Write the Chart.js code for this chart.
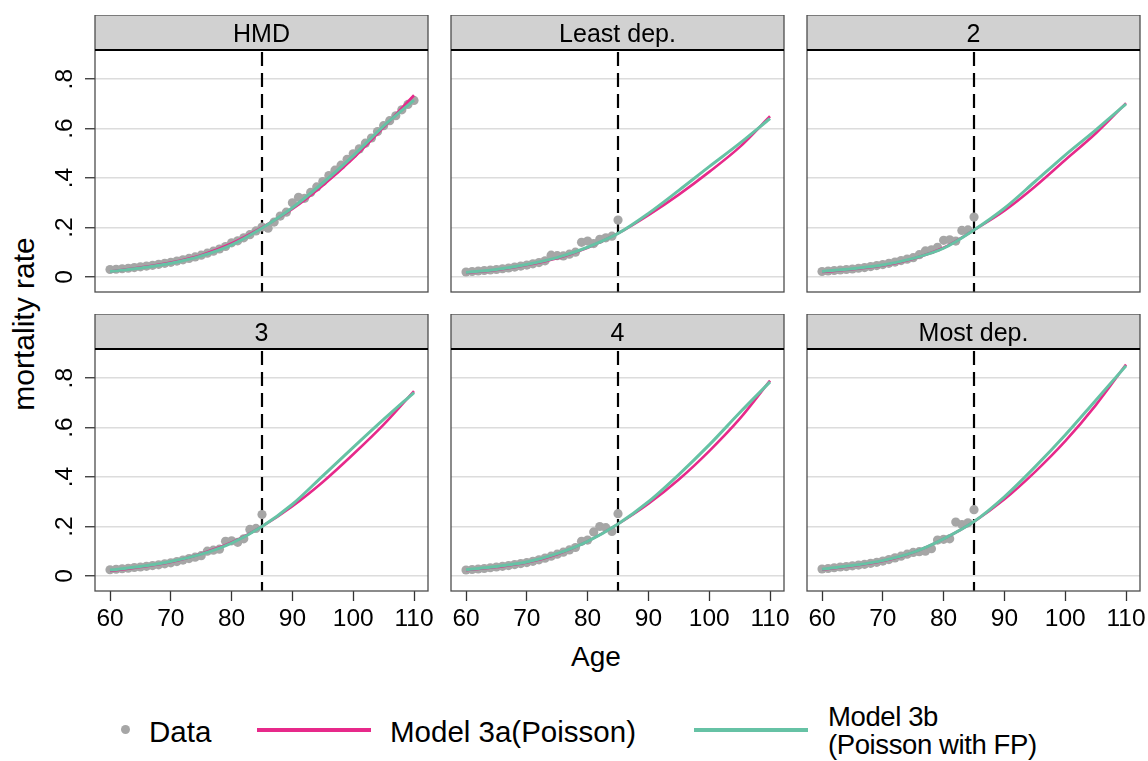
<!DOCTYPE html>
<html>
<head>
<meta charset="utf-8">
<title>mortality rate by age</title>
<script src="https://cdn.jsdelivr.net/npm/chart.js@4.4.1/dist/chart.umd.min.js"></script>
<style>
  body { margin: 0; background: #fff; font-family: "Liberation Sans", Arial, sans-serif; }
  #page { position: relative; width: 1148px; height: 761px; overflow: hidden; background: #fff; }
  #page canvas { position: absolute; }
  .txt { position: absolute; color: #000; white-space: nowrap; line-height: 1; }
  .key { position: absolute; }
</style>
</head>
<body>
<div id="page">
  <div class="txt" id="ytitle" style="left:24px;top:324px;font-size:30px;transform:translate(-50%,-50%) rotate(-90deg);">mortality rate</div>
  <div class="txt" id="xtitle" style="left:596px;top:643px;font-size:28px;line-height:28px;transform:translateX(-50%);">Age</div>

  <!-- legend -->
  <div class="key" style="left:121px;top:725px;width:9px;height:9px;border-radius:50%;background:#a6a6a6;"></div>
  <div class="txt" style="left:149px;top:717px;font-size:29.5px;line-height:29.5px;">Data</div>
  <div class="key" style="left:257px;top:728px;width:114px;height:4px;background:#e7298a;"></div>
  <div class="txt" style="left:390px;top:717px;font-size:29.5px;line-height:29.5px;">Model 3a(Poisson)</div>
  <div class="key" style="left:694px;top:728px;width:114px;height:4px;background:#66c2a5;"></div>
  <div class="txt" style="left:828px;top:703px;font-size:27.5px;line-height:28px;letter-spacing:-0.4px;">Model 3b<br>(Poisson with FP)</div>
</div>

<script>
// ---- data ----
var panelNames = ['HMD', 'Least dep.', '2', '3', '4', 'Most dep.'];

var xTicks = [60, 70, 80, 90, 100, 110];
var yTicks = [0, 0.2, 0.4, 0.6, 0.8];
var cutAge = 85;

// observed ages
var hmdAges = [60,61,62,63,64,65,66,67,68,69,70,71,72,73,74,75,76,77,78,79,80,81,82,83,84,85,
               86,87,88,89,90,91,92,93,94,95,96,97,98,99,100,101,102,103,104,105,106,107,108,109,110];
var obsAges = [60,61,62,63,64,65,66,67,68,69,70,71,72,73,74,75,76,77,78,79,80,81,82,83,84,85];
// ages where the fitted curves were read
var fitAges = [60, 65, 70, 75, 80, 85, 90, 95, 100, 105, 110];

// observed mortality rates
var obsHMD   = [.030,.031,.033,.035,.038,.041,.044,.047,.051,.055,.059,.064,.069,.075,.081,.088,.096,.104,.113,.123,.138,.146,.158,.171,.186,.202,
                .197,.222,.246,.262,.300,.322,.318,.342,.364,.386,.410,.432,.452,.476,.498,.518,.541,.562,.588,.612,.632,.652,.676,.698,.714];
var obsLeast = [.020,.022,.024,.026,.028,.030,.033,.036,.040,.044,.048,.053,.058,.065,.088,.086,.085,.092,.100,.140,.145,.135,.152,.158,.165,.230];
var obsQ2    = [.022,.024,.026,.028,.030,.032,.035,.038,.042,.046,.050,.055,.060,.066,.072,.078,.090,.105,.110,.120,.148,.150,.145,.188,.190,.242];
var obsQ3    = [.025,.027,.029,.031,.034,.036,.039,.042,.045,.049,.053,.058,.064,.070,.076,.082,.100,.104,.108,.140,.142,.136,.150,.188,.192,.248];
var obsQ4    = [.024,.026,.028,.030,.033,.036,.039,.042,.046,.050,.054,.059,.065,.072,.080,.088,.096,.105,.115,.140,.145,.178,.200,.195,.180,.252];
var obsMost  = [.028,.030,.033,.036,.038,.041,.044,.047,.051,.055,.060,.066,.073,.080,.088,.095,.098,.100,.110,.145,.148,.150,.218,.208,.215,.268];

// Model 3a (Poisson)
var m3aHMD   = [.022,.038,.058,.088,.135,.200,.275,.370,.480,.605,.735];
var m3aLeast = [.016,.028,.048,.076,.118,.176,.250,.333,.425,.525,.650];
var m3aQ2    = [.020,.031,.046,.074,.118,.190,.268,.365,.473,.580,.703];
var m3aQ3    = [.020,.036,.056,.090,.135,.200,.282,.380,.492,.612,.748];
var m3aQ4    = [.023,.036,.054,.088,.140,.210,.292,.390,.505,.635,.790];
var m3aMost  = [.025,.040,.060,.095,.150,.220,.310,.420,.545,.690,.855];

// Model 3b (Poisson with FP)
var m3bHMD   = [.022,.036,.055,.085,.130,.198,.280,.380,.490,.610,.715];
var m3bLeast = [.018,.030,.050,.078,.120,.176,.257,.350,.446,.540,.641];
var m3bQ2    = [.022,.033,.048,.075,.116,.190,.278,.385,.493,.594,.700];
var m3bQ3    = [.024,.038,.058,.088,.133,.200,.290,.405,.520,.633,.742];
var m3bQ4    = [.025,.038,.056,.090,.140,.210,.300,.410,.530,.660,.785];
var m3bMost  = [.027,.042,.062,.095,.150,.220,.320,.440,.570,.710,.850];

var panelObsAges = [hmdAges, obsAges, obsAges, obsAges, obsAges, obsAges];
var panelObs = [obsHMD, obsLeast, obsQ2, obsQ3, obsQ4, obsMost];
var panel3a = [m3aHMD, m3aLeast, m3aQ2, m3aQ3, m3aQ4, m3aMost];
var panel3b = [m3bHMD, m3bLeast, m3bQ2, m3bQ3, m3bQ4, m3bMost];

// ---- layout ----
var FONT = '"Liberation Sans", Arial, sans-serif';
var colLeft = [95, 451, 807];
var rowTop = [15, 314];
var plotW = 333, plotH = 242, headH = 35, pad = 26;
var yAxisW = 55, xAxisH = 50;

function pairs(xs, ys) {
  return xs.map(function (x, i) { return { x: x, y: ys[i] }; });
}

function fmtY(v) {
  return v === 0 ? '0' : String(v).replace(/^0/, '');
}

// header strip, frame and the dashed line at the cut age
var facetPlugin = {
  id: 'facet',
  beforeDatasetsDraw: function (chart) {
    var ctx = chart.ctx, a = chart.chartArea;
    var x = Math.round(chart.scales.x.getPixelForValue(cutAge));
    ctx.save();
    ctx.strokeStyle = '#000';
    ctx.lineWidth = 2.2;
    ctx.setLineDash([14, 7]);
    ctx.beginPath();
    ctx.moveTo(x, a.top + 2);
    ctx.lineTo(x, a.bottom);
    ctx.stroke();
    ctx.restore();
  },
  afterDraw: function (chart) {
    var ctx = chart.ctx, a = chart.chartArea;
    var name = chart.options.plugins.facet.name;
    ctx.save();
    ctx.fillStyle = '#d1d1d1';
    ctx.fillRect(a.left, a.top - headH, a.width, headH);
    ctx.strokeStyle = '#4d4d4d';
    ctx.lineWidth = 1.3;
    ctx.strokeRect(a.left, a.top - headH, a.width, a.height + headH);
    ctx.strokeStyle = '#000';
    ctx.lineWidth = 2;
    ctx.beginPath();
    ctx.moveTo(a.left, a.top);
    ctx.lineTo(a.right, a.top);
    ctx.stroke();
    ctx.fillStyle = '#000';
    ctx.font = '25px ' + FONT;
    ctx.textAlign = 'center';
    ctx.textBaseline = 'alphabetic';
    ctx.fillText(name, (a.left + a.right) / 2, a.top - headH / 2 + 9);
    ctx.restore();
  }
};

var page = document.getElementById('page');

panelNames.forEach(function (name, i) {
  var row = Math.floor(i / 3), col = i % 3;
  var showY = col === 0, showX = row === 1;
  var yW = showY ? yAxisW : 0;
  var xH = showX ? xAxisH : 0;

  var cv = document.createElement('canvas');
  var w = pad + yW + plotW + pad;
  var h = headH + plotH + xH + pad;
  cv.width = w; cv.height = h;
  cv.style.width = w + 'px'; cv.style.height = h + 'px';
  cv.style.left = (colLeft[col] - yW - pad) + 'px';
  cv.style.top = (rowTop[row]) + 'px';
  page.appendChild(cv);

  new Chart(cv, {
    type: 'scatter',
    data: {
      datasets: [
        {
          label: 'Model 3b (Poisson with FP)',
          data: pairs(fitAges, panel3b[i]),
          showLine: true, pointRadius: 0, borderColor: '#66c2a5', borderWidth: 3,
          cubicInterpolationMode: 'monotone', order: 1
        },
        {
          label: 'Model 3a(Poisson)',
          data: pairs(fitAges, panel3a[i]),
          showLine: true, pointRadius: 0, borderColor: '#e7298a', borderWidth: 2.6,
          cubicInterpolationMode: 'monotone', order: 2
        },
        {
          label: 'Data',
          data: pairs(panelObsAges[i], panelObs[i]),
          showLine: false, pointRadius: 4.6, pointBorderWidth: 0,
          pointBackgroundColor: '#a6a6a6', order: 3
        }
      ]
    },
    options: {
      responsive: false,
      animation: false,
      events: [],
      layout: { padding: { left: pad, right: pad, top: headH, bottom: pad } },
      plugins: {
        legend: { display: false },
        tooltip: { enabled: false },
        facet: { name: name }
      },
      scales: {
        x: {
          type: 'linear', min: 57.53, max: 112.3,
          afterBuildTicks: function (s) { s.ticks = xTicks.map(function (v) { return { value: v }; }); },
          afterFit: function (s) { s.height = xH; },
          border: { display: false },
          grid: { display: showX, drawOnChartArea: false, drawTicks: showX, tickLength: 10, tickColor: '#333', tickWidth: 1.3 },
          ticks: { display: showX, padding: 4, color: '#000', maxRotation: 0, minRotation: 0, font: { size: 24.5, family: FONT } }
        },
        y: {
          type: 'linear', min: -0.061, max: 0.918,
          afterBuildTicks: function (s) { s.ticks = yTicks.map(function (v) { return { value: v }; }); },
          afterFit: function (s) { s.width = yW; },
          border: { display: false },
          grid: { color: '#dcdcdc', lineWidth: 1.5, drawTicks: showY, tickLength: 10, tickColor: '#333', tickWidth: 1.3 },
          ticks: {
            display: showY, padding: 10, crossAlign: 'center', minRotation: 90, maxRotation: 90,
            color: '#000', font: { size: 24.5, family: FONT },
            callback: function (v) { return fmtY(v); }
          }
        }
      }
    },
    plugins: [facetPlugin]
  });
});
</script>
</body>
</html>
